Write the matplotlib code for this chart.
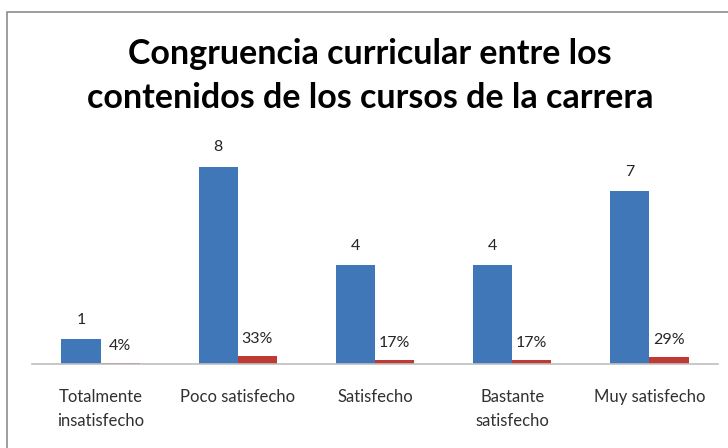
import matplotlib
matplotlib.use("Agg")
import matplotlib.pyplot as plt
import numpy as np

categories = ["Totalmente\ninsatisfecho", "Poco satisfecho", "Satisfecho",
              "Bastante\nsatisfecho", "Muy satisfecho"]
counts = [1, 8, 4, 4, 7]
shares = [0.04, 0.33, 0.17, 0.17, 0.29]
share_labels = ["4%", "33%", "17%", "17%", "29%"]

plt.rcParams['font.family'] = ['Lato', 'DejaVu Sans']

fig = plt.figure(figsize=(7.28, 4.48), dpi=100)
ax = fig.add_axes([32 / 728, 84 / 448, 686 / 728, 222 / 448])

x = np.arange(len(categories))
w = 0.285
blue = ax.bar(x - w / 2, counts, w, color='#3f77b9')
red = ax.bar(x + w / 2, shares, w, color='#be3a33')

for rect, v in zip(blue, counts):
    ax.annotate(str(v), (rect.get_x() + rect.get_width() / 2, rect.get_height()),
                textcoords="offset points", xytext=(0, 9), ha='center',
                va='bottom', fontsize=11.5, color='#262626')
for rect, lab in zip(red, share_labels):
    ax.annotate(lab, (rect.get_x() + rect.get_width() / 2, rect.get_height()),
                textcoords="offset points", xytext=(0, 7), ha='center',
                va='bottom', fontsize=11.5, color='#262626')

ax.set_xlim(-0.5, len(categories) - 0.5)
ax.set_ylim(0, 9)
ax.set_yticks([])
ax.set_xticks(x)
ax.set_xticklabels(categories, fontsize=12, color='#303030', va='top',
                   linespacing=1.6)
ax.tick_params(axis='x', length=0, pad=18)
for s in ['top', 'right', 'left']:
    ax.spines[s].set_visible(False)
ax.spines['bottom'].set_color('#bfbfbf')
ax.spines['bottom'].set_linewidth(1.2)

fig.text(370 / 728, 1 - 76 / 448,
         "Congruencia curricular entre los\ncontenidos de los cursos de la carrera",
         ha='center', va='center', fontsize=24.5, fontweight='bold',
         linespacing=1.45, color='black')

# chart border (only left and top edges fall inside the picture)
fig.patches.append(plt.Rectangle((7 / 728, -0.1), 1.1, 1 - 12 / 448 + 0.1,
                                 transform=fig.transFigure, fill=False,
                                 edgecolor='#8c8c8c', linewidth=1.2))

fig.savefig("out.png", dpi=100)
